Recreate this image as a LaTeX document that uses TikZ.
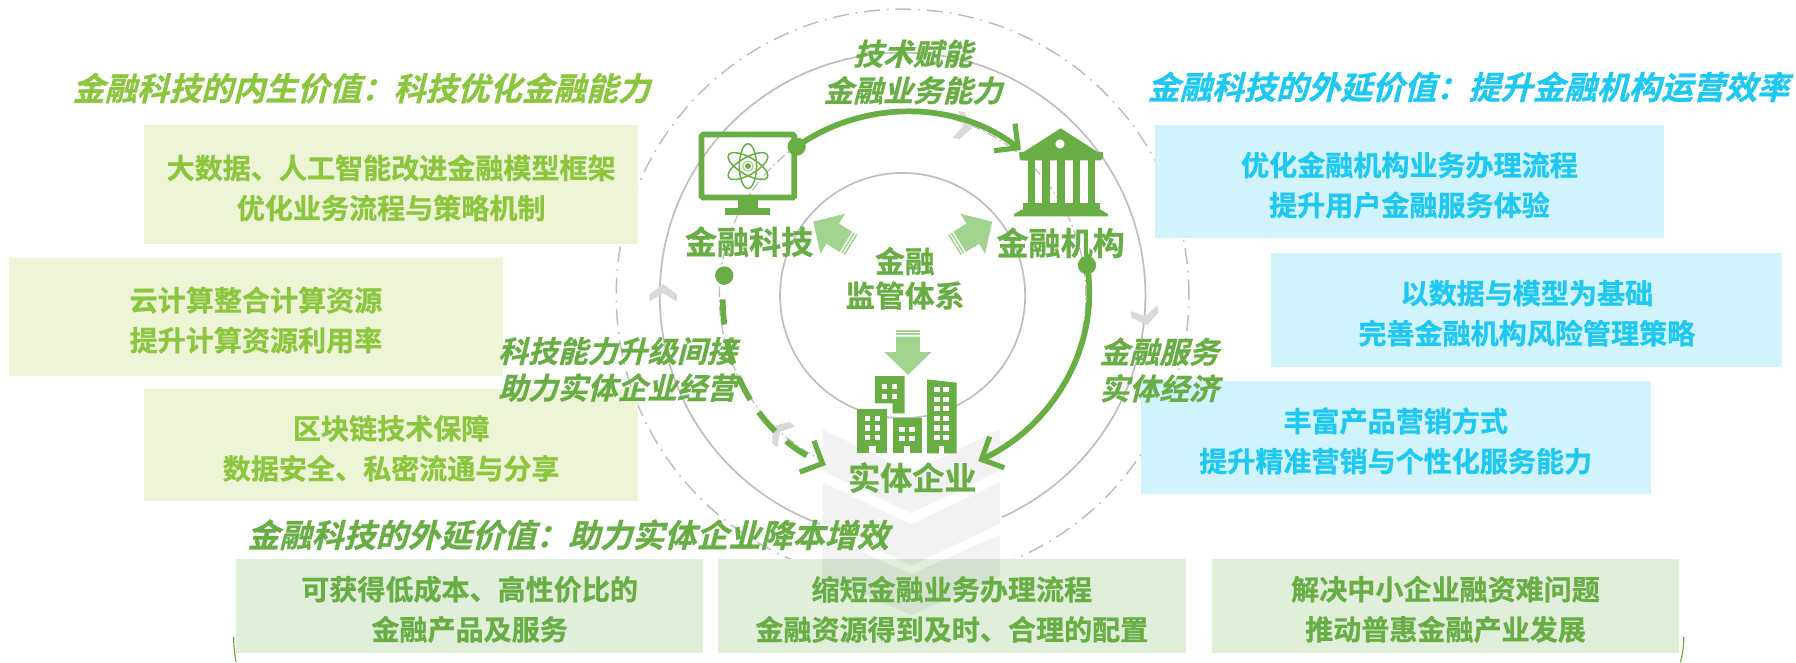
\documentclass[tikz,border=0pt]{standalone}
\usepackage{fontspec}
\usetikzlibrary{arrows.meta}
\setmainfont{Noto Sans CJK SC}[BoldFont={Noto Sans CJK SC Bold}]
\newfontfamily\cjkbold{Noto Sans CJK SC Bold}[FakeBold=0.8]
\newfontfamily\cjkit{Noto Sans CJK SC Bold}[FakeSlant=0.25,FakeBold=0.8]
\definecolor{leaf}{HTML}{68AE45}
\definecolor{lime}{HTML}{8CC63F}
\definecolor{sky}{HTML}{1EC8F0}
\definecolor{boxlime}{HTML}{EEF5D6}
\definecolor{boxsky}{HTML}{D0F3FC}
\definecolor{boxleaf}{HTML}{E0EEDA}
\definecolor{ring}{HTML}{BFBFBF}
\definecolor{pale}{HTML}{A3D48F}
\definecolor{tick}{HTML}{D9D9D9}
\newcommand{\widecolon}{\symbol{"FF1A}}
\tikzset{
  panel/.style={inner sep=0pt},
  limebox/.style={panel,fill=boxlime},
  skybox/.style={panel,fill=boxsky},
  leafbox/.style={panel,fill=boxleaf},
  paneltext/.style={inner sep=0pt,align=center,yshift=-3pt,font=\cjkbold\fontsize{24.5}{35}\selectfont},
  heading/.style={inner sep=0pt,font=\cjkit\fontsize{28}{34}\selectfont},
  flowlabel/.style={inner sep=0pt,align=center,text=leaf,font=\cjkit\fontsize{26}{32}\selectfont},
  iconlabel/.style={inner sep=0pt,align=center,text=leaf,font=\cjkbold\fontsize{28}{30}\selectfont},
  centerlabel/.style={inner sep=0pt,align=center,text=leaf,font=\cjkbold\fontsize{26}{30}\selectfont},
  solidring/.style={draw=ring,line width=1.5pt},
  dashring/.style={draw=ring,line width=1.3pt,dash pattern=on 14pt off 6pt on 1.5pt off 6pt},
  thinring/.style={draw=ring,line width=1.1pt,dash pattern=on 9pt off 3pt on 1.5pt off 3pt},
  flow/.style={draw=leaf,line width=5pt,-{Straight Barb[length=15pt,width=30pt,line width=4.5pt]}},
  dot/.style={circle,fill=leaf,minimum size=16pt,inner sep=0pt},
  tickmark/.style={fill=tick},
  blockarrow/.style={fill=pale},
}
\newcommand{\tickat}[3]{\fill[tickmark,shift={(#1,#2)},rotate=#3] (-7,-12)--(-1,-12)--(8,0)--(-1,12)--(-7,12)--(0,0)--cycle;}
\newcommand{\blockat}[3]{\begin{scope}[shift={(#1,#2)},rotate=#3]
  \fill[blockarrow] (0,0)--(-20,20.5)--(-20,10.4)--(-33.5,10.4)--(-33.5,-10.4)--(-20,-10.4)--(-20,-20.5)--cycle;
  \fill[blockarrow] (-35,-10.4) rectangle (-36.3,10.4);
  \fill[blockarrow] (-37.6,-10.4) rectangle (-38.9,10.4);
\end{scope}}
\newcommand{\winbox}[2]{\fill[white] (#1,-#2) rectangle ++(4.8,-4.5);}
\begin{document}
\begin{tikzpicture}[x=1pt,y=1pt]
\useasboundingbox (0,0) rectangle (1568,-578);
\fill[white] (0,0) rectangle (1568,-578);
% rings
\coordinate (hub) at (788,-258);
\draw[dashring] (hub) circle (250);
\draw[solidring] (hub) circle (212);
\draw[thinring] (hub) circle (160);
\draw[solidring] (hub) circle (107);
\fill[white] (716,-375) rectangle (875,-520);
% ticks on the ring
\tickat{841}{-110}{-12}
\tickat{1000}{-276}{-78}
\tickat{579}{-256}{90}
\tickat{681}{-377}{140}
% panels
\node[limebox,minimum width=431pt,minimum height=104pt] (l1) at (341.5,-161) {};
\node[limebox,minimum width=431pt,minimum height=103pt] (l2) at (223.5,-276.5) {};
\node[limebox,minimum width=431pt,minimum height=97pt] (l3) at (341.5,-388.5) {};
\node[skybox,minimum width=445pt,minimum height=99pt] (r1) at (1230.5,-158.5) {};
\node[skybox,minimum width=446pt,minimum height=99pt] (r2) at (1333,-270.5) {};
\node[skybox,minimum width=445pt,minimum height=98pt] (r3) at (1218.5,-382) {};
\node[leafbox,minimum width=408pt,minimum height=82pt] (b1) at (410,-529) {};
\node[leafbox,minimum width=408pt,minimum height=82pt] (b2) at (831,-529) {};
\node[leafbox,minimum width=408pt,minimum height=82pt] (b3) at (1262,-529) {};
% big chevrons
\begin{scope}[fill=black,fill opacity=0.05]
\fill (718,-375)--(795.5,-412)--(873,-375)--(873,-411)--(795.5,-448)--(718,-411)--cycle;
\fill (718,-421)--(795.5,-458)--(873,-421)--(873,-457)--(795.5,-494)--(718,-457)--cycle;
\fill (718,-467)--(795.5,-501)--(873,-467)--(873,-503)--(795.5,-537)--(718,-503)--cycle;
\end{scope}
% panel texts
\node[paneltext,text=lime] (l1t) at (l1.center) {大数据、人工智能改进金融模型框架\\优化业务流程与策略机制};
\node[paneltext,text=lime] (l2t) at (l2.center) {云计算整合计算资源\\提升计算资源利用率};
\node[paneltext,text=lime] (l3t) at (l3.center) {区块链技术保障\\数据安全、私密流通与分享};
\node[paneltext,text=sky] (r1t) at (r1.center) {优化金融机构业务办理流程\\提升用户金融服务体验};
\node[paneltext,text=sky] (r2t) at (r2.center) {以数据与模型为基础\\完善金融机构风险管理策略};
\node[paneltext,text=sky] (r3t) at (r3.center) {丰富产品营销方式\\提升精准营销与个性化服务能力};
\node[paneltext,text=leaf] (b1t) at (b1.center) {可获得低成本、高性价比的\\金融产品及服务};
\node[paneltext,text=leaf] (b2t) at (b2.center) {缩短金融业务办理流程\\金融资源得到及时、合理的配置};
\node[paneltext,text=leaf] (b3t) at (b3.center) {解决中小企业融资难问题\\推动普惠金融产业发展};
% headings
\node[heading,text=lime] (t1) at (315.5,-77) {金融科技的内生价值\widecolon 科技优化金融能力};
\node[heading,text=sky] (t2) at (1282,-76) {金融科技的外延价值\widecolon 提升金融机构运营效率};
\node[heading,text=leaf] (t3) at (496,-467) {金融科技的外延价值\widecolon 助力实体企业降本增效};
% monitor
\draw[leaf,line width=5pt,rounded corners=1.5pt] (612.5,-117.5) rectangle (693.5,-172.5);
\fill[leaf] (644,-175) rectangle (662,-182);
\fill[leaf] (633,-182) rectangle (672,-188);
\begin{scope}[shift={(653,-145)}]
\draw[leaf,line width=1.3pt] (0,0) ellipse (7.5 and 19.5);
\draw[leaf,line width=1.3pt,rotate=60] (0,0) ellipse (7.5 and 19.5);
\draw[leaf,line width=1.3pt,rotate=-60] (0,0) ellipse (7.5 and 19.5);
\fill[leaf] (0,0) circle (2.6);
\draw[leaf!60,line width=1pt] (0,0) circle (4.5);
\end{scope}
% bank
\fill[leaf] (926,-112)--(958,-132.5)--(963,-132.5)--(963,-138)--(961,-140)--(891,-140)--(890,-138)--(890,-132.5)--(894,-132.5)--cycle;
\fill[white] (925.4,-125.7) circle (4);
\foreach \cx in {897.3,909.7,923,936.4,949.8}{\fill[leaf] (\cx,-140) rectangle ++(6.6,-37.5);}
\fill[leaf] (893,-177.5) rectangle (960,-183);
\fill[leaf] (892,-183)--(961,-183)--(967.5,-187)--(967.5,-189)--(885.3,-189)--(885.3,-187)--cycle;
% buildings
\fill[leaf] (748.3,-357) rectangle (774.4,-395.8);
\fill[leaf] (779.4,-365.2) rectangle (805,-395.8);
\fill[leaf] (763.7,-328.3)--(789.7,-328.3)--(789.7,-361)--(779.4,-361)--(779.4,-352.1)--(763.7,-352.1)--cycle;
\fill[leaf] (809.5,-331.2)--(835.2,-334.1)--(835.2,-395.8)--(809.5,-395.8)--cycle;
\foreach \wx in {755,763.6}{\foreach \wy in {363,371.4,380}{\winbox{\wx}{\wy}}}
\foreach \wx in {785,793.7}{\foreach \wy in {372.5,380.6}{\winbox{\wx}{\wy}}}
\foreach \wx in {770,778.4}{\foreach \wy in {335.2,344}{\winbox{\wx}{\wy}}}
\foreach \wx in {815.5,823.5}{\foreach \wy in {338,346.3,354.4,363,371.4,380}{\winbox{\wx}{\wy}}}
\fill[white] (758.6,-389) rectangle (765,-396.5);
\fill[white] (789.4,-389) rectangle (794.6,-396.5);
\fill[white] (819.5,-389) rectangle (824.5,-396.5);
% block arrows
\blockat{710}{-193.5}{148.3}
\blockat{866.3}{-193.5}{31.7}
\blockat{792.7}{-327.4}{-90}
% labels
\node[iconlabel] (fintech) at (654,-211) {金融科技};
\node[iconlabel] (bank) at (926,-212) {金融机构};
\node[iconlabel] (firm) at (796.5,-417) {实体企业};
\node[centerlabel] (reg) at (790,-243) {金融\\监管体系};
\node[flowlabel] (f1) at (797,-63) {技术赋能\\金融业务能力};
\node[flowlabel] (f2) at (539,-322.5) {科技能力升级间接\\助力实体企业经营};
\node[flowlabel] (f3) at (1012,-323) {金融服务\\实体经济};
% flows
\node[dot] (dotA) at (695.5,-128) {};
\node[dot] (dotB) at (949,-231.5) {};
\node[dot] (dotC) at (632.3,-240.5) {};
\coordinate (bankIn) at (891.3,-131);
\coordinate (firmIn) at (854,-402.5);
\coordinate (firmInL) at (721,-406);
\draw[flow] (dotA.center) .. controls (753.5,-87) and (835,-87) .. (bankIn);
\draw[flow] (dotB.center) .. controls (961,-302) and (919,-372) .. (firmIn);
\draw[flow,dash pattern=on 22pt off 13pt,dash phase=14pt] (dotC.center) .. controls (624,-309.5) and (657,-377) .. (firmInL);
% corner arcs
\draw[leaf,line width=1pt] (204,-556) .. controls (204,-565) and (205,-572) .. (206,-578);
\draw[leaf,line width=1pt] (1470,-556) .. controls (1470,-565) and (1469,-572) .. (1467,-578);
\end{tikzpicture}
\end{document}
